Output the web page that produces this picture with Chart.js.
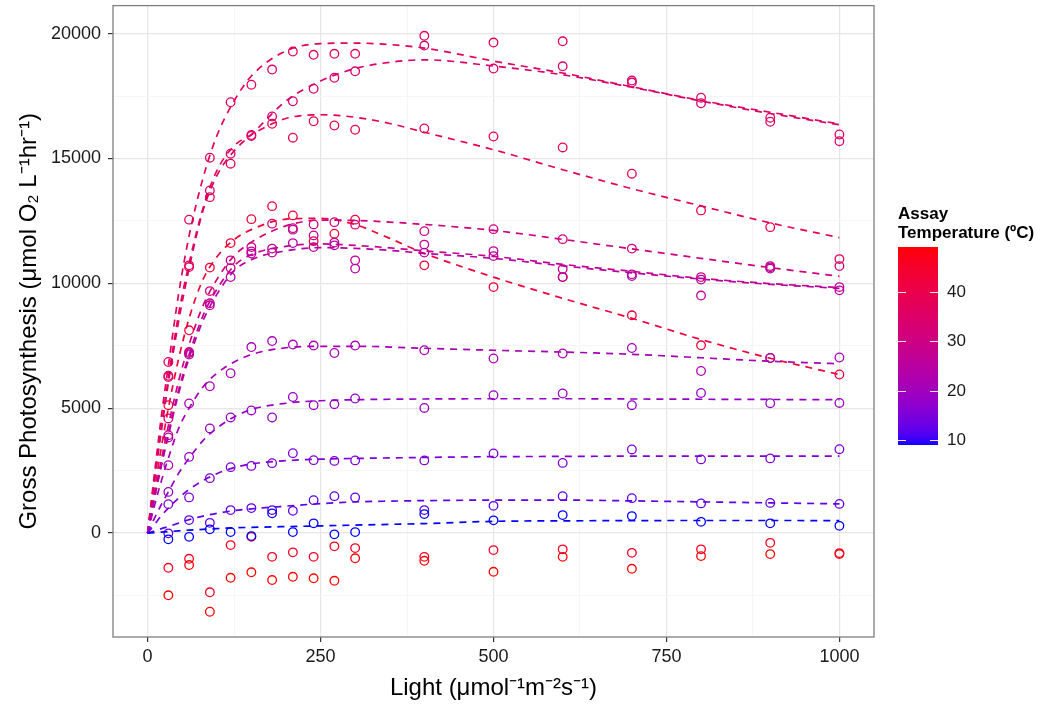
<!DOCTYPE html>
<html>
<head>
<meta charset="utf-8">
<script src="https://cdn.jsdelivr.net/npm/chart.js@4.4.1/dist/chart.umd.min.js"></script>
<style>
  html, body { margin: 0; padding: 0; background: #fff; }
  canvas { display: block; }
</style>
</head>
<body>
<canvas id="piChart" width="1053" height="704"></canvas>
<script>
// ── Data ────────────────────────────────────────────────
// light levels of the measured points
const light = [30, 60, 90, 120, 150, 180, 210, 240, 270, 300, 400, 500, 600, 700, 800, 900, 1000];
// light levels where the fitted curves are tabulated
const fitLight = [0, 10, 20, 30, 45, 60, 80, 100, 125, 150, 200, 250, 300, 350, 400, 500, 600, 700, 800, 900, 1000];

// assay temperatures (ºC)
const temps = [9, 12.1, 15.2, 18.2, 21.3, 24.4, 27.5, 30.5, 33.6, 36.7, 39.8, 42.8, 45.9, 49];

// measured gross photosynthesis, one array per temperature
const obs9  = [-250, -150, 150, 40, -120, 790, 40, 390, -50, 40, 760, 510, 720, 680, 450, 390, 290];
const obs12 = [-10, 520, 410, 920, 1000, 920, 890, 1320, 1480, 1430, 920, 1090, 1480, 1400, 1190, 1210, 1170];
const obs15 = [1160, 1430, 2200, 2640, 2690, 2800, 3200, 2920, 2890, 2910, 2910, 3190, 2810, 3350, 2950, 2990, 3360];
const obs18 = [1650, 3050, 4190, 4630, 4910, 4630, 5450, 5120, 5160, 5390, 5010, 5520, 5590, 5120, 5610, 5200, 5210];
const obs21 = [2720, 5190, 5880, 6400, 7450, 7690, 7550, 7510, 7210, 7510, 7320, 6990, 7190, 7410, 6490, 7010, 7030];
const obs24 = [3830, 7150, 9120, 10250, 11190, 11230, 11610, 11450, 11520, 10590, 11230, 11090, 10250, 10290, 10150, 10590, 9720];
const obs27 = [3920, 7210, 9200, 10610, 11280, 11390, 12150, 11920, 11630, 10920, 11550, 11290, 10570, 10360, 9510, 10640, 9850];
const obs30 = [4590, 7250, 9690, 10920, 11450, 12390, 12210, 12360, 12450, 12350, 12090, 12170, 11770, 11390, 10250, 10690, 10690];
const obs34 = [6300, 10720, 13720, 15190, 15940, 16680, 17290, 17790, 18230, 18490, 19520, 18600, 18690, 18040, 17210, 16470, 15690];
const obs37 = [6850, 12550, 15030, 17250, 17950, 18560, 19280, 19150, 19190, 19190, 19910, 19640, 19690, 18120, 17430, 16630, 15960];
const obs40 = [6250, 10650, 13450, 14790, 15900, 16390, 15830, 16490, 16320, 16150, 16200, 15880, 15440, 14390, 12920, 12250, 10970];
const obs43 = [5120, 8120, 10630, 11610, 12570, 13090, 12720, 11690, 11990, 12550, 10720, 9850, 10250, 8720, 7520, 7010, 6350];
const obs46 = [-1390, -1030, -2370, -480, -150, -950, -770, -950, -530, -600, -950, -680, -650, -790, -650, -390, -800];
const obs49 = [-2490, -1280, -3150, -1790, -1570, -1880, -1750, -1810, -1910, -1010, -1110, -1550, -950, -1430, -920, -840, -840];

// fitted light-response curves (no fit for the two hottest assays)
const fit9  = [0, 20, 40, 60, 90, 120, 150, 180, 210, 230, 260, 290, 320, 350, 380, 470, 490, 500, 505, 505, 500];
const fit12 = [0, 90, 180, 260, 400, 540, 680, 790, 900, 970, 1080, 1180, 1250, 1280, 1300, 1320, 1320, 1290, 1250, 1210, 1170];
const fit15 = [0, 350, 700, 1000, 1400, 1750, 2100, 2380, 2620, 2770, 2900, 2960, 2990, 3010, 3030, 3060, 3070, 3080, 3080, 3080, 3080];
const fit18 = [0, 600, 1150, 1650, 2400, 3000, 3700, 4200, 4650, 4950, 5200, 5300, 5340, 5360, 5370, 5380, 5380, 5370, 5360, 5350, 5340];
const fit21 = [0, 1100, 2100, 3000, 4200, 5000, 5850, 6400, 6850, 7150, 7420, 7480, 7480, 7450, 7400, 7320, 7250, 7160, 7020, 6880, 6780];
const fit24 = [0, 1400, 2700, 3900, 5600, 7000, 8500, 9550, 10500, 10950, 11300, 11430, 11400, 11320, 11200, 11000, 10700, 10420, 10170, 9960, 9800];
const fit27 = [0, 1420, 2750, 4000, 5750, 7150, 8700, 9750, 10700, 11150, 11480, 11580, 11520, 11420, 11300, 11080, 10760, 10480, 10200, 9990, 9830];
const fit30 = [0, 1500, 2950, 4300, 6100, 7550, 9100, 10150, 11100, 11650, 12300, 12530, 12520, 12450, 12360, 12120, 11760, 11380, 11000, 10630, 10280];
const fit34 = [0, 2100, 4100, 6000, 8500, 10600, 12900, 14300, 15300, 15950, 17300, 18100, 18600, 18850, 18950, 18700, 18350, 17850, 17300, 16800, 16350];
const fit37 = [0, 2400, 4700, 6700, 9600, 11900, 14200, 15900, 17300, 18300, 19300, 19600, 19620, 19560, 19420, 18900, 18420, 17870, 17320, 16850, 16380];
const fit40 = [0, 2200, 4300, 6200, 8800, 10800, 13000, 14500, 15500, 15950, 16600, 16750, 16650, 16400, 16050, 15350, 14550, 13790, 13100, 12420, 11830];
const fit43 = [0, 1750, 3450, 5000, 7000, 8600, 10150, 11050, 11750, 12150, 12570, 12600, 12350, 11800, 11200, 10250, 9400, 8600, 7750, 7000, 6350];

// axis breaks
const xBreaks = [0, 250, 500, 750, 1000];
const xMinor = [125, 375, 625, 875];
const yBreaks = [0, 5000, 10000, 15000, 20000];
const yMinor = [-2500, 2500, 7500, 12500, 17500];
const legendBreaks = [10, 20, 30, 40];

const observed = [obs9, obs12, obs15, obs18, obs21, obs24, obs27, obs30, obs34, obs37, obs40, obs43, obs46, obs49];
const fitted   = [fit9, fit12, fit15, fit18, fit21, fit24, fit27, fit30, fit34, fit37, fit40, fit43, null, null];

// ── Colour scale: blue -> red, interpolated in CIE Lab ──
const WHITE = [0.95047, 1, 1.08883];
function toLinear(c) { c /= 255; return c <= 0.04045 ? c / 12.92 : Math.pow((c + 0.055) / 1.055, 2.4); }
function fromLinear(c) {
  c = c <= 0.0031308 ? 12.92 * c : 1.055 * Math.pow(c, 1 / 2.4) - 0.055;
  return Math.round(Math.min(1, Math.max(0, c)) * 255);
}
function rgbToLab(rgb) {
  const [r, g, b] = rgb.map(toLinear);
  const X = 0.4124 * r + 0.3576 * g + 0.1805 * b;
  const Y = 0.2126 * r + 0.7152 * g + 0.0722 * b;
  const Z = 0.0193 * r + 0.1192 * g + 0.9505 * b;
  const f = v => v > 0.008856 ? Math.cbrt(v) : 7.787 * v + 16 / 116;
  const fx = f(X / WHITE[0]), fy = f(Y / WHITE[1]), fz = f(Z / WHITE[2]);
  return [116 * fy - 16, 500 * (fx - fy), 200 * (fy - fz)];
}
function labToRgb([L, a, b]) {
  const fy = (L + 16) / 116, fx = fy + a / 500, fz = fy - b / 200;
  const inv = t => t > 0.206893 ? t * t * t : (t - 16 / 116) / 7.787;
  const X = WHITE[0] * inv(fx), Y = WHITE[1] * inv(fy), Z = WHITE[2] * inv(fz);
  const r = 3.2406 * X - 1.5372 * Y - 0.4986 * Z;
  const g = -0.9689 * X + 1.8758 * Y + 0.0415 * Z;
  const bl = 0.0557 * X - 0.2040 * Y + 1.0570 * Z;
  return `rgb(${fromLinear(r)},${fromLinear(g)},${fromLinear(bl)})`;
}
const LOW = rgbToLab([0, 0, 255]), HIGH = rgbToLab([255, 0, 0]);
const tMin = Math.min(...temps), tMax = Math.max(...temps);
function tempColour(t) {
  const f = (t - tMin) / (tMax - tMin);
  return labToRgb(LOW.map((v, i) => v + (HIGH[i] - v) * f));
}

// ── Datasets ────────────────────────────────────────────
const datasets = [];
temps.forEach((t, k) => {
  const col = tempColour(t);
  datasets.push({
    label: 'obs ' + t,
    data: light.map((x, i) => ({ x, y: observed[k][i] })),
    showLine: false,
    pointStyle: 'circle',
    pointRadius: 4.3,
    pointBorderWidth: 1.3,
    pointBorderColor: col,
    pointBackgroundColor: 'rgba(0,0,0,0)',
    order: 2
  });
  if (fitted[k]) {
    datasets.push({
      label: 'fit ' + t,
      data: fitLight.map((x, i) => ({ x, y: fitted[k][i] })),
      showLine: true,
      borderColor: col,
      borderWidth: 1.7,
      borderDash: [7, 6],
      pointRadius: 0,
      cubicInterpolationMode: 'monotone',
      order: 1
    });
  }
});

// ── Plugins ─────────────────────────────────────────────
const FONT = "'Liberation Sans', Arial, Helvetica, sans-serif";

const panelBorder = {
  id: 'panelBorder',
  afterDraw(chart) {
    const { ctx, chartArea: a } = chart;
    ctx.save();
    ctx.strokeStyle = '#7f7f7f';
    ctx.lineWidth = 1.3;
    ctx.strokeRect(a.left, a.top, a.right - a.left, a.bottom - a.top);
    ctx.restore();
  }
};

const colourBar = {
  id: 'colourBar',
  afterDraw(chart) {
    const ctx = chart.ctx;
    const x0 = 898, w = 40, top = 247, bottom = 445;
    const yOf = t => bottom - (t - tMin) / (tMax - tMin) * (bottom - top);
    ctx.save();
    for (let y = top; y < bottom; y++) {
      const t = tMin + (bottom - y - 0.5) / (bottom - top) * (tMax - tMin);
      ctx.fillStyle = tempColour(t);
      ctx.fillRect(x0, y, w, 1);
    }
    ctx.strokeStyle = 'rgba(255,255,255,0.9)';
    ctx.lineWidth = 1;
    ctx.fillStyle = '#1a1a1a';
    ctx.font = '17px ' + FONT;
    ctx.textBaseline = 'middle';
    legendBreaks.forEach(b => {
      const y = Math.round(yOf(b)) + 0.5;
      ctx.beginPath();
      ctx.moveTo(x0, y); ctx.lineTo(x0 + 8, y);
      ctx.moveTo(x0 + w - 8, y); ctx.lineTo(x0 + w, y);
      ctx.stroke();
      ctx.fillText(String(b), x0 + w + 9, y);
    });
    ctx.font = 'bold 17px ' + FONT;
    ctx.textBaseline = 'alphabetic';
    ctx.fillStyle = '#000';
    ctx.fillText('Assay', x0, 219);
    ctx.fillText('Temperature (ºC)', x0, 238);
    ctx.restore();
  }
};

// ── Chart ───────────────────────────────────────────────
const isMajorX = v => xBreaks.includes(v);
const isMajorY = v => yBreaks.includes(v);

new Chart(document.getElementById('piChart'), {
  type: 'scatter',
  data: { datasets },
  options: {
    responsive: false,
    animation: false,
    devicePixelRatio: 1,
    layout: { padding: { left: 0, right: 179, top: 5, bottom: 0 } },
    plugins: {
      legend: { display: false },
      tooltip: { enabled: false }
    },
    scales: {
      x: {
        type: 'linear',
        min: -50,
        max: 1050,
        afterBuildTicks: s => { s.ticks = [...xBreaks, ...xMinor].sort((a, b) => a - b).map(v => ({ value: v })); },
        afterFit: s => { s.height = 67; s.paddingLeft = 0; s.paddingRight = 0; },
        border: { display: false },
        grid: {
          color: c => isMajorX(c.tick.value) ? '#e6e6e6' : '#f6f6f6',
          lineWidth: c => isMajorX(c.tick.value) ? 1.2 : 1,
          tickColor: c => isMajorX(c.tick.value) ? '#333' : 'rgba(0,0,0,0)',
          tickLength: 5,
          drawTicks: true
        },
        ticks: {
          autoSkip: false,
          maxRotation: 0,
          padding: 4,
          color: '#1a1a1a',
          font: { family: FONT, size: 18 },
          callback: v => isMajorX(v) ? String(v) : ''
        },
        title: {
          display: true,
          text: 'Light (μmol⁻¹m⁻²s⁻¹)',
          color: '#000',
          font: { family: FONT, size: 24 },
          padding: { top: 0, bottom: 1 }
        }
      },
      y: {
        type: 'linear',
        min: -4160,
        max: 21120,
        afterBuildTicks: s => { s.ticks = [...yBreaks, ...yMinor].sort((a, b) => a - b).map(v => ({ value: v })); },
        afterFit: s => { s.width = 113; s.paddingTop = 0; s.paddingBottom = 0; },
        border: { display: false },
        grid: {
          color: c => isMajorY(c.tick.value) ? '#e6e6e6' : '#f6f6f6',
          lineWidth: c => isMajorY(c.tick.value) ? 1.2 : 1,
          tickColor: c => isMajorY(c.tick.value) ? '#333' : 'rgba(0,0,0,0)',
          tickLength: 5,
          drawTicks: true
        },
        ticks: {
          autoSkip: false,
          padding: 7,
          color: '#1a1a1a',
          font: { family: FONT, size: 18 },
          callback: v => isMajorY(v) ? String(v) : ''
        },
        title: {
          display: true,
          text: 'Gross Photosynthesis (μmol O₂ L⁻¹hr⁻¹)',
          color: '#000',
          font: { family: FONT, size: 24 },
          padding: { top: 15, bottom: 0 }
        }
      }
    }
  },
  plugins: [panelBorder, colourBar]
});
</script>
</body>
</html>
